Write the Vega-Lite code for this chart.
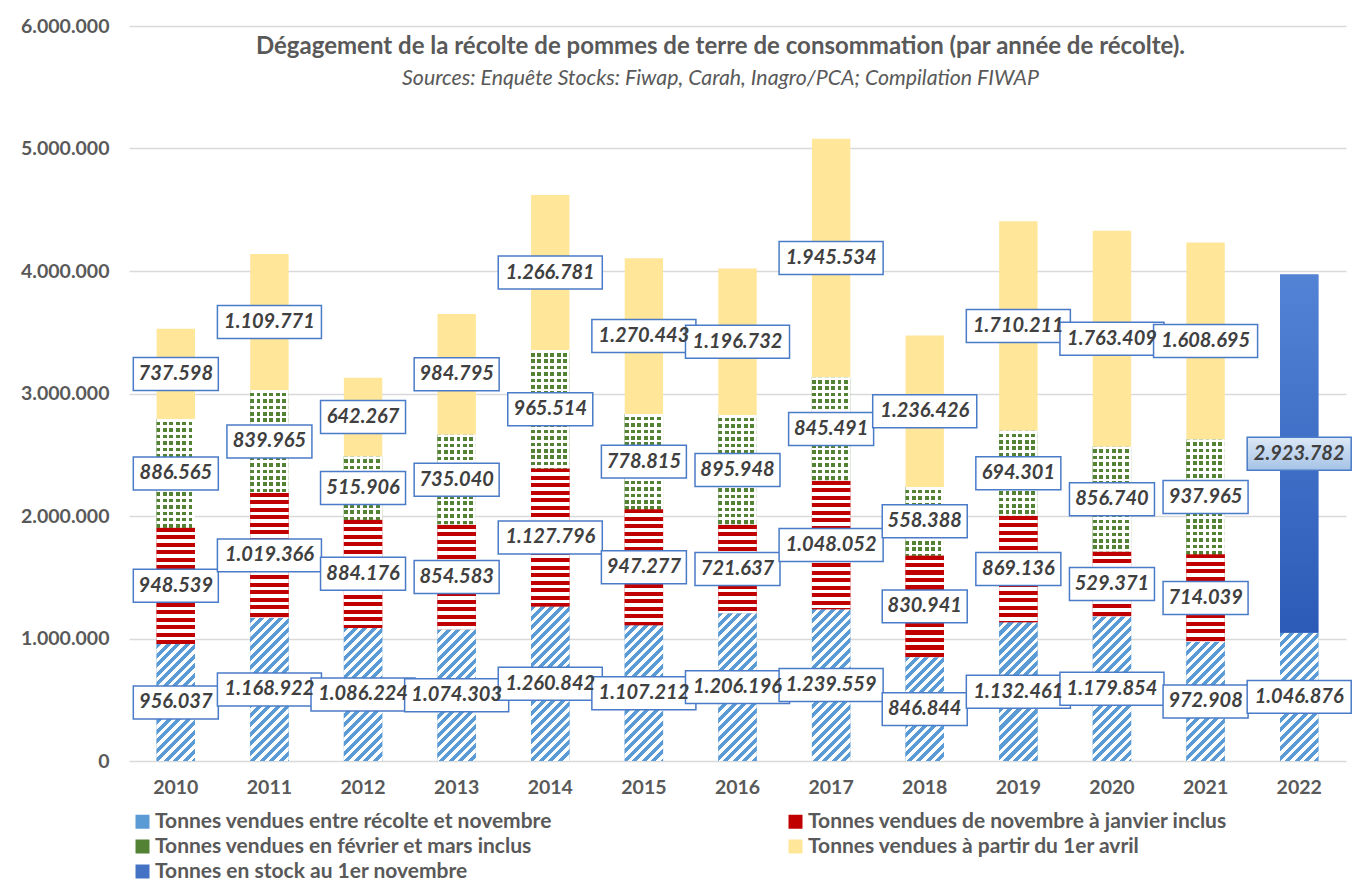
{
  "$schema": "https://vega.github.io/schema/vega-lite/v6.json",
  "width": 1217,
  "height": 735,
  "padding": {"left": 20, "top": 16, "right": 20, "bottom": 5},
  "background": "white",
  "title": {
    "text": "Dégagement de la récolte de pommes de terre de consommation (par année de récolte).",
    "subtitle": "Sources: Enquête Stocks: Fiwap, Carah, Inagro/PCA; Compilation FIWAP",
    "font": "Lato",
    "fontSize": 24,
    "fontWeight": "bold",
    "color": "#595959",
    "subtitleFont": "Lato",
    "subtitleFontSize": 21.3,
    "subtitleFontStyle": "italic",
    "subtitleColor": "#595959",
    "subtitlePadding": 9,
    "anchor": "middle",
    "offset": 0,
    "dx": -17,
    "dy": 73
  },
  "params": [
    {"name": "redStops", "value": [
      {"offset":0,"color":"#c00000"},{"offset":0.027,"color":"#c00000"},{"offset":0.027,"color":"#fff"},{"offset":0.05,"color":"#fff"},
      {"offset":0.05,"color":"#c00000"},{"offset":0.077,"color":"#c00000"},{"offset":0.077,"color":"#fff"},{"offset":0.1,"color":"#fff"},
      {"offset":0.1,"color":"#c00000"},{"offset":0.127,"color":"#c00000"},{"offset":0.127,"color":"#fff"},{"offset":0.15,"color":"#fff"},
      {"offset":0.15,"color":"#c00000"},{"offset":0.177,"color":"#c00000"},{"offset":0.177,"color":"#fff"},{"offset":0.2,"color":"#fff"},
      {"offset":0.2,"color":"#c00000"},{"offset":0.227,"color":"#c00000"},{"offset":0.227,"color":"#fff"},{"offset":0.25,"color":"#fff"},
      {"offset":0.25,"color":"#c00000"},{"offset":0.277,"color":"#c00000"},{"offset":0.277,"color":"#fff"},{"offset":0.3,"color":"#fff"},
      {"offset":0.3,"color":"#c00000"},{"offset":0.327,"color":"#c00000"},{"offset":0.327,"color":"#fff"},{"offset":0.35,"color":"#fff"},
      {"offset":0.35,"color":"#c00000"},{"offset":0.377,"color":"#c00000"},{"offset":0.377,"color":"#fff"},{"offset":0.4,"color":"#fff"},
      {"offset":0.4,"color":"#c00000"},{"offset":0.427,"color":"#c00000"},{"offset":0.427,"color":"#fff"},{"offset":0.45,"color":"#fff"},
      {"offset":0.45,"color":"#c00000"},{"offset":0.477,"color":"#c00000"},{"offset":0.477,"color":"#fff"},{"offset":0.5,"color":"#fff"},
      {"offset":0.5,"color":"#c00000"},{"offset":0.527,"color":"#c00000"},{"offset":0.527,"color":"#fff"},{"offset":0.55,"color":"#fff"},
      {"offset":0.55,"color":"#c00000"},{"offset":0.577,"color":"#c00000"},{"offset":0.577,"color":"#fff"},{"offset":0.6,"color":"#fff"},
      {"offset":0.6,"color":"#c00000"},{"offset":0.627,"color":"#c00000"},{"offset":0.627,"color":"#fff"},{"offset":0.65,"color":"#fff"},
      {"offset":0.65,"color":"#c00000"},{"offset":0.677,"color":"#c00000"},{"offset":0.677,"color":"#fff"},{"offset":0.7,"color":"#fff"},
      {"offset":0.7,"color":"#c00000"},{"offset":0.727,"color":"#c00000"},{"offset":0.727,"color":"#fff"},{"offset":0.75,"color":"#fff"},
      {"offset":0.75,"color":"#c00000"},{"offset":0.777,"color":"#c00000"},{"offset":0.777,"color":"#fff"},{"offset":0.8,"color":"#fff"},
      {"offset":0.8,"color":"#c00000"},{"offset":0.827,"color":"#c00000"},{"offset":0.827,"color":"#fff"},{"offset":0.85,"color":"#fff"},
      {"offset":0.85,"color":"#c00000"},{"offset":0.877,"color":"#c00000"},{"offset":0.877,"color":"#fff"},{"offset":0.9,"color":"#fff"},
      {"offset":0.9,"color":"#c00000"},{"offset":0.927,"color":"#c00000"},{"offset":0.927,"color":"#fff"},{"offset":0.95,"color":"#fff"},
      {"offset":0.95,"color":"#c00000"},{"offset":0.977,"color":"#c00000"},{"offset":0.977,"color":"#fff"},{"offset":1,"color":"#fff"}
    ]},
    {"name": "blueStops", "value": [
      {"offset":0,"color":"#5b9bd5"},{"offset":0.027,"color":"#5b9bd5"},{"offset":0.027,"color":"#fff"},{"offset":0.05,"color":"#fff"},
      {"offset":0.05,"color":"#5b9bd5"},{"offset":0.077,"color":"#5b9bd5"},{"offset":0.077,"color":"#fff"},{"offset":0.1,"color":"#fff"},
      {"offset":0.1,"color":"#5b9bd5"},{"offset":0.127,"color":"#5b9bd5"},{"offset":0.127,"color":"#fff"},{"offset":0.15,"color":"#fff"},
      {"offset":0.15,"color":"#5b9bd5"},{"offset":0.177,"color":"#5b9bd5"},{"offset":0.177,"color":"#fff"},{"offset":0.2,"color":"#fff"},
      {"offset":0.2,"color":"#5b9bd5"},{"offset":0.227,"color":"#5b9bd5"},{"offset":0.227,"color":"#fff"},{"offset":0.25,"color":"#fff"},
      {"offset":0.25,"color":"#5b9bd5"},{"offset":0.277,"color":"#5b9bd5"},{"offset":0.277,"color":"#fff"},{"offset":0.3,"color":"#fff"},
      {"offset":0.3,"color":"#5b9bd5"},{"offset":0.327,"color":"#5b9bd5"},{"offset":0.327,"color":"#fff"},{"offset":0.35,"color":"#fff"},
      {"offset":0.35,"color":"#5b9bd5"},{"offset":0.377,"color":"#5b9bd5"},{"offset":0.377,"color":"#fff"},{"offset":0.4,"color":"#fff"},
      {"offset":0.4,"color":"#5b9bd5"},{"offset":0.427,"color":"#5b9bd5"},{"offset":0.427,"color":"#fff"},{"offset":0.45,"color":"#fff"},
      {"offset":0.45,"color":"#5b9bd5"},{"offset":0.477,"color":"#5b9bd5"},{"offset":0.477,"color":"#fff"},{"offset":0.5,"color":"#fff"},
      {"offset":0.5,"color":"#5b9bd5"},{"offset":0.527,"color":"#5b9bd5"},{"offset":0.527,"color":"#fff"},{"offset":0.55,"color":"#fff"},
      {"offset":0.55,"color":"#5b9bd5"},{"offset":0.577,"color":"#5b9bd5"},{"offset":0.577,"color":"#fff"},{"offset":0.6,"color":"#fff"},
      {"offset":0.6,"color":"#5b9bd5"},{"offset":0.627,"color":"#5b9bd5"},{"offset":0.627,"color":"#fff"},{"offset":0.65,"color":"#fff"},
      {"offset":0.65,"color":"#5b9bd5"},{"offset":0.677,"color":"#5b9bd5"},{"offset":0.677,"color":"#fff"},{"offset":0.7,"color":"#fff"},
      {"offset":0.7,"color":"#5b9bd5"},{"offset":0.727,"color":"#5b9bd5"},{"offset":0.727,"color":"#fff"},{"offset":0.75,"color":"#fff"},
      {"offset":0.75,"color":"#5b9bd5"},{"offset":0.777,"color":"#5b9bd5"},{"offset":0.777,"color":"#fff"},{"offset":0.8,"color":"#fff"},
      {"offset":0.8,"color":"#5b9bd5"},{"offset":0.827,"color":"#5b9bd5"},{"offset":0.827,"color":"#fff"},{"offset":0.85,"color":"#fff"},
      {"offset":0.85,"color":"#5b9bd5"},{"offset":0.877,"color":"#5b9bd5"},{"offset":0.877,"color":"#fff"},{"offset":0.9,"color":"#fff"},
      {"offset":0.9,"color":"#5b9bd5"},{"offset":0.927,"color":"#5b9bd5"},{"offset":0.927,"color":"#fff"},{"offset":0.95,"color":"#fff"},
      {"offset":0.95,"color":"#5b9bd5"},{"offset":0.977,"color":"#5b9bd5"},{"offset":0.977,"color":"#fff"},{"offset":1,"color":"#fff"}
    ]},
    {"name": "dotStops", "value": [
      {"offset":0,"color":"#fff"},{"offset":0.022,"color":"#fff"},{"offset":0.022,"color":"rgba(255,255,255,0)"},{"offset":0.05,"color":"rgba(255,255,255,0)"},
      {"offset":0.05,"color":"#fff"},{"offset":0.072,"color":"#fff"},{"offset":0.072,"color":"rgba(255,255,255,0)"},{"offset":0.1,"color":"rgba(255,255,255,0)"},
      {"offset":0.1,"color":"#fff"},{"offset":0.122,"color":"#fff"},{"offset":0.122,"color":"rgba(255,255,255,0)"},{"offset":0.15,"color":"rgba(255,255,255,0)"},
      {"offset":0.15,"color":"#fff"},{"offset":0.172,"color":"#fff"},{"offset":0.172,"color":"rgba(255,255,255,0)"},{"offset":0.2,"color":"rgba(255,255,255,0)"},
      {"offset":0.2,"color":"#fff"},{"offset":0.222,"color":"#fff"},{"offset":0.222,"color":"rgba(255,255,255,0)"},{"offset":0.25,"color":"rgba(255,255,255,0)"},
      {"offset":0.25,"color":"#fff"},{"offset":0.272,"color":"#fff"},{"offset":0.272,"color":"rgba(255,255,255,0)"},{"offset":0.3,"color":"rgba(255,255,255,0)"},
      {"offset":0.3,"color":"#fff"},{"offset":0.322,"color":"#fff"},{"offset":0.322,"color":"rgba(255,255,255,0)"},{"offset":0.35,"color":"rgba(255,255,255,0)"},
      {"offset":0.35,"color":"#fff"},{"offset":0.372,"color":"#fff"},{"offset":0.372,"color":"rgba(255,255,255,0)"},{"offset":0.4,"color":"rgba(255,255,255,0)"},
      {"offset":0.4,"color":"#fff"},{"offset":0.422,"color":"#fff"},{"offset":0.422,"color":"rgba(255,255,255,0)"},{"offset":0.45,"color":"rgba(255,255,255,0)"},
      {"offset":0.45,"color":"#fff"},{"offset":0.472,"color":"#fff"},{"offset":0.472,"color":"rgba(255,255,255,0)"},{"offset":0.5,"color":"rgba(255,255,255,0)"},
      {"offset":0.5,"color":"#fff"},{"offset":0.522,"color":"#fff"},{"offset":0.522,"color":"rgba(255,255,255,0)"},{"offset":0.55,"color":"rgba(255,255,255,0)"},
      {"offset":0.55,"color":"#fff"},{"offset":0.572,"color":"#fff"},{"offset":0.572,"color":"rgba(255,255,255,0)"},{"offset":0.6,"color":"rgba(255,255,255,0)"},
      {"offset":0.6,"color":"#fff"},{"offset":0.622,"color":"#fff"},{"offset":0.622,"color":"rgba(255,255,255,0)"},{"offset":0.65,"color":"rgba(255,255,255,0)"},
      {"offset":0.65,"color":"#fff"},{"offset":0.672,"color":"#fff"},{"offset":0.672,"color":"rgba(255,255,255,0)"},{"offset":0.7,"color":"rgba(255,255,255,0)"},
      {"offset":0.7,"color":"#fff"},{"offset":0.722,"color":"#fff"},{"offset":0.722,"color":"rgba(255,255,255,0)"},{"offset":0.75,"color":"rgba(255,255,255,0)"},
      {"offset":0.75,"color":"#fff"},{"offset":0.772,"color":"#fff"},{"offset":0.772,"color":"rgba(255,255,255,0)"},{"offset":0.8,"color":"rgba(255,255,255,0)"},
      {"offset":0.8,"color":"#fff"},{"offset":0.822,"color":"#fff"},{"offset":0.822,"color":"rgba(255,255,255,0)"},{"offset":0.85,"color":"rgba(255,255,255,0)"},
      {"offset":0.85,"color":"#fff"},{"offset":0.872,"color":"#fff"},{"offset":0.872,"color":"rgba(255,255,255,0)"},{"offset":0.9,"color":"rgba(255,255,255,0)"},
      {"offset":0.9,"color":"#fff"},{"offset":0.922,"color":"#fff"},{"offset":0.922,"color":"rgba(255,255,255,0)"},{"offset":0.95,"color":"rgba(255,255,255,0)"},
      {"offset":0.95,"color":"#fff"},{"offset":0.972,"color":"#fff"},{"offset":0.972,"color":"rgba(255,255,255,0)"},{"offset":1,"color":"rgba(255,255,255,0)"}
    ]}
  ],
  "data": {"values": [
    {"year":"2010","s":"Tonnes vendues entre récolte et novembre","v":956037},
    {"year":"2010","s":"Tonnes vendues de novembre à janvier inclus","v":948539},
    {"year":"2010","s":"Tonnes vendues en février et mars inclus","v":886565},
    {"year":"2010","s":"Tonnes vendues à partir du 1er avril","v":737598},
    {"year":"2011","s":"Tonnes vendues entre récolte et novembre","v":1168922},
    {"year":"2011","s":"Tonnes vendues de novembre à janvier inclus","v":1019366},
    {"year":"2011","s":"Tonnes vendues en février et mars inclus","v":839965},
    {"year":"2011","s":"Tonnes vendues à partir du 1er avril","v":1109771},
    {"year":"2012","s":"Tonnes vendues entre récolte et novembre","v":1086224},
    {"year":"2012","s":"Tonnes vendues de novembre à janvier inclus","v":884176},
    {"year":"2012","s":"Tonnes vendues en février et mars inclus","v":515906},
    {"year":"2012","s":"Tonnes vendues à partir du 1er avril","v":642267},
    {"year":"2013","s":"Tonnes vendues entre récolte et novembre","v":1074303},
    {"year":"2013","s":"Tonnes vendues de novembre à janvier inclus","v":854583},
    {"year":"2013","s":"Tonnes vendues en février et mars inclus","v":735040},
    {"year":"2013","s":"Tonnes vendues à partir du 1er avril","v":984795},
    {"year":"2014","s":"Tonnes vendues entre récolte et novembre","v":1260842},
    {"year":"2014","s":"Tonnes vendues de novembre à janvier inclus","v":1127796},
    {"year":"2014","s":"Tonnes vendues en février et mars inclus","v":965514},
    {"year":"2014","s":"Tonnes vendues à partir du 1er avril","v":1266781},
    {"year":"2015","s":"Tonnes vendues entre récolte et novembre","v":1107212},
    {"year":"2015","s":"Tonnes vendues de novembre à janvier inclus","v":947277},
    {"year":"2015","s":"Tonnes vendues en février et mars inclus","v":778815},
    {"year":"2015","s":"Tonnes vendues à partir du 1er avril","v":1270443},
    {"year":"2016","s":"Tonnes vendues entre récolte et novembre","v":1206196},
    {"year":"2016","s":"Tonnes vendues de novembre à janvier inclus","v":721637},
    {"year":"2016","s":"Tonnes vendues en février et mars inclus","v":895948},
    {"year":"2016","s":"Tonnes vendues à partir du 1er avril","v":1196732},
    {"year":"2017","s":"Tonnes vendues entre récolte et novembre","v":1239559},
    {"year":"2017","s":"Tonnes vendues de novembre à janvier inclus","v":1048052},
    {"year":"2017","s":"Tonnes vendues en février et mars inclus","v":845491},
    {"year":"2017","s":"Tonnes vendues à partir du 1er avril","v":1945534},
    {"year":"2018","s":"Tonnes vendues entre récolte et novembre","v":846844},
    {"year":"2018","s":"Tonnes vendues de novembre à janvier inclus","v":830941},
    {"year":"2018","s":"Tonnes vendues en février et mars inclus","v":558388},
    {"year":"2018","s":"Tonnes vendues à partir du 1er avril","v":1236426},
    {"year":"2019","s":"Tonnes vendues entre récolte et novembre","v":1132461},
    {"year":"2019","s":"Tonnes vendues de novembre à janvier inclus","v":869136},
    {"year":"2019","s":"Tonnes vendues en février et mars inclus","v":694301},
    {"year":"2019","s":"Tonnes vendues à partir du 1er avril","v":1710211},
    {"year":"2020","s":"Tonnes vendues entre récolte et novembre","v":1179854},
    {"year":"2020","s":"Tonnes vendues de novembre à janvier inclus","v":529371},
    {"year":"2020","s":"Tonnes vendues en février et mars inclus","v":856740},
    {"year":"2020","s":"Tonnes vendues à partir du 1er avril","v":1763409},
    {"year":"2021","s":"Tonnes vendues entre récolte et novembre","v":972908},
    {"year":"2021","s":"Tonnes vendues de novembre à janvier inclus","v":714039},
    {"year":"2021","s":"Tonnes vendues en février et mars inclus","v":937965},
    {"year":"2021","s":"Tonnes vendues à partir du 1er avril","v":1608695},
    {"year":"2022","s":"Tonnes vendues entre récolte et novembre","v":1046876},
    {"year":"2022","s":"Tonnes en stock au 1er novembre","v":2923782}
  ]},
  "transform": [
    {"calculate": "indexof(['Tonnes vendues entre récolte et novembre','Tonnes vendues de novembre à janvier inclus','Tonnes en stock au 1er novembre','Tonnes vendues en février et mars inclus','Tonnes vendues à partir du 1er avril'], datum.s)", "as": "o"},
    {"stack": "v", "groupby": ["year"], "sort": [{"field": "o", "order": "ascending"}], "as": ["y0", "y1"]},
    {"calculate": "(datum.y0 + datum.y1) / 2", "as": "mid"}
  ],
  "encoding": {
    "x": {
      "field": "year",
      "type": "ordinal",
      "scale": {"paddingInner": 0.59, "paddingOuter": 0.295},
      "axis": {
        "title": null,
        "labelAngle": 0,
        "ticks": false,
        "domain": false,
        "labelPadding": 17,
        "labelFont": "Lato",
        "labelFontSize": 19.5,
        "labelFontWeight": "bold",
        "labelColor": "#595959"
      }
    },
    "y": {
      "field": "y1",
      "type": "quantitative",
      "scale": {"domain": [0, 6000000], "nice": false, "zero": true},
      "axis": {
        "title": null,
        "values": [0, 1000000, 2000000, 3000000, 4000000, 5000000, 6000000],
        "format": ",d",
        "grid": true,
        "gridColor": "#d9d9d9",
        "gridWidth": 1.3,
        "domain": false,
        "ticks": false,
        "labelPadding": 20,
        "labelFont": "Lato",
        "labelFontSize": 19.5,
        "labelFontWeight": "bold",
        "labelColor": "#595959"
      }
    }
  },
  "layer": [
    {
      "mark": {"type": "bar"},
      "encoding": {
        "y2": {"field": "y0"},
        "color": {
          "field": "s",
          "type": "nominal",
          "scale": {
            "domain": ["Tonnes vendues entre récolte et novembre", "Tonnes vendues en février et mars inclus", "Tonnes en stock au 1er novembre", "Tonnes vendues de novembre à janvier inclus", "Tonnes vendues à partir du 1er avril"],
            "range": ["#5b9bd5", "#548235", "#4472c4", "#c00000", "#ffe699"]
          },
          "legend": {
            "orient": "none",
            "legendX": 3,
            "legendY": 785,
            "columns": 2,
            "title": null,
            "symbolType": "square",
            "symbolSize": 196,
            "symbolStrokeWidth": 0,
            "labelFont": "Lato",
            "labelFontSize": 21,
            "labelFontWeight": "bold",
            "labelColor": "#595959",
            "labelLimit": 0,
            "labelOffset": 2,
            "columnPadding": 233,
            "rowPadding": 3
          }
        }
      }
    },
    {
      "transform": [{"filter": "datum.s === 'Tonnes vendues entre récolte et novembre'"}],
      "mark": {"type": "bar"},
      "encoding": {
        "y2": {"field": "y0"},
        "fill": {"value": {"expr": "{gradient:'linear',x1:0,y1:0,x2:190*bandwidth('x')/(pow(bandwidth('x'),2)+pow(scale('y',datum.y0)-scale('y',datum.y1),2)),y2:190*(scale('y',datum.y0)-scale('y',datum.y1))/(pow(bandwidth('x'),2)+pow(scale('y',datum.y0)-scale('y',datum.y1),2)),stops:blueStops}"}}
      }
    },
    {
      "transform": [{"filter": "datum.s === 'Tonnes vendues de novembre à janvier inclus'"}],
      "mark": {"type": "bar"},
      "encoding": {
        "y2": {"field": "y0"},
        "fill": {"value": {"expr": "{gradient:'linear',x1:0,y1:0,x2:0,y2:150/max(1,scale('y',datum.y0)-scale('y',datum.y1)),stops:redStops}"}}
      }
    },
    {
      "transform": [{"filter": "datum.s === 'Tonnes vendues en février et mars inclus'"}],
      "mark": {
        "type": "bar",
        "fill": {"gradient": "linear", "x1": 0, "y1": 0, "x2": 1, "y2": 0, "stops": [
          {"offset":0,"color":"#548235"},{"offset":0.1,"color":"#548235"},{"offset":0.1,"color":"#fff"},{"offset":0.1667,"color":"#fff"},
          {"offset":0.1667,"color":"#548235"},{"offset":0.2667,"color":"#548235"},{"offset":0.2667,"color":"#fff"},{"offset":0.3333,"color":"#fff"},
          {"offset":0.3333,"color":"#548235"},{"offset":0.4333,"color":"#548235"},{"offset":0.4333,"color":"#fff"},{"offset":0.5,"color":"#fff"},
          {"offset":0.5,"color":"#548235"},{"offset":0.6,"color":"#548235"},{"offset":0.6,"color":"#fff"},{"offset":0.6667,"color":"#fff"},
          {"offset":0.6667,"color":"#548235"},{"offset":0.7667,"color":"#548235"},{"offset":0.7667,"color":"#fff"},{"offset":0.8333,"color":"#fff"},
          {"offset":0.8333,"color":"#548235"},{"offset":0.9333,"color":"#548235"},{"offset":0.9333,"color":"#fff"},{"offset":1,"color":"#fff"}
        ]}
      },
      "encoding": {
        "y2": {"field": "y0"}
      }
    },
    {
      "transform": [{"filter": "datum.s === 'Tonnes vendues en février et mars inclus'"}],
      "mark": {"type": "bar"},
      "encoding": {
        "y2": {"field": "y0"},
        "fill": {"value": {"expr": "{gradient:'linear',x1:0,y1:0,x2:0,y2:128/max(1,scale('y',datum.y0)-scale('y',datum.y1)),stops:dotStops}"}}
      }
    },
    {
      "transform": [{"filter": "datum.s === 'Tonnes en stock au 1er novembre'"}],
      "mark": {
        "type": "bar",
        "fill": {"gradient": "linear", "x1": 0, "y1": 0, "x2": 0, "y2": 1, "stops": [
          {"offset": 0, "color": "#5383d5"},
          {"offset": 1, "color": "#2b5bb7"}
        ]}
      },
      "encoding": {
        "y2": {"field": "y0"}
      }
    },
    {
      "mark": {"type": "point", "filled": true, "stroke": "#4a7bc8", "strokeWidth": 1.5, "opacity": 1, "size": 7225},
      "encoding": {
        "y": {
          "field": "mid",
          "type": "quantitative",
          "axis": {
            "title": null,
            "values": [0, 1000000, 2000000, 3000000, 4000000, 5000000, 6000000],
            "format": ",d",
            "grid": true,
            "gridColor": "#d9d9d9",
            "gridWidth": 1.3,
            "domain": false,
            "ticks": false,
            "labelPadding": 20,
            "labelFont": "Lato",
            "labelFontSize": 19.5,
            "labelFontWeight": "bold",
            "labelColor": "#595959"
          }
        },
        "shape": {
          "condition": {"test": "datum.v >= 1000000", "value": "M-1.224,-0.388H1.224V0.388H-1.224Z"},
          "value": "M-1,-0.388H1V0.388H-1Z"
        },
        "fill": {"value": {"expr": "datum.s === 'Tonnes en stock au 1er novembre' ? {gradient:'linear',x1:0,y1:0,x2:0,y2:1,stops:[{offset:0,color:'#dce8f6'},{offset:1,color:'#a6c3e6'}]} : '#ffffff'"}}
      }
    },
    {
      "mark": {"type": "text", "font": "Lato", "fontSize": 20, "fontWeight": "bold", "fontStyle": "italic", "color": "#404040", "align": "center", "baseline": "middle"},
      "encoding": {
        "y": {
          "field": "mid",
          "type": "quantitative",
          "axis": {
            "title": null,
            "values": [0, 1000000, 2000000, 3000000, 4000000, 5000000, 6000000],
            "format": ",d",
            "grid": true,
            "gridColor": "#d9d9d9",
            "gridWidth": 1.3,
            "domain": false,
            "ticks": false,
            "labelPadding": 20,
            "labelFont": "Lato",
            "labelFontSize": 19.5,
            "labelFontWeight": "bold",
            "labelColor": "#595959"
          }
        },
        "text": {"field": "v", "type": "quantitative", "format": ",d"}
      }
    }
  ],
  "config": {
    "font": "Lato",
    "view": {"stroke": null},
    "locale": {"number": {"decimal": ",", "thousands": ".", "grouping": [3], "currency": ["", " €"]}}
  }
}
